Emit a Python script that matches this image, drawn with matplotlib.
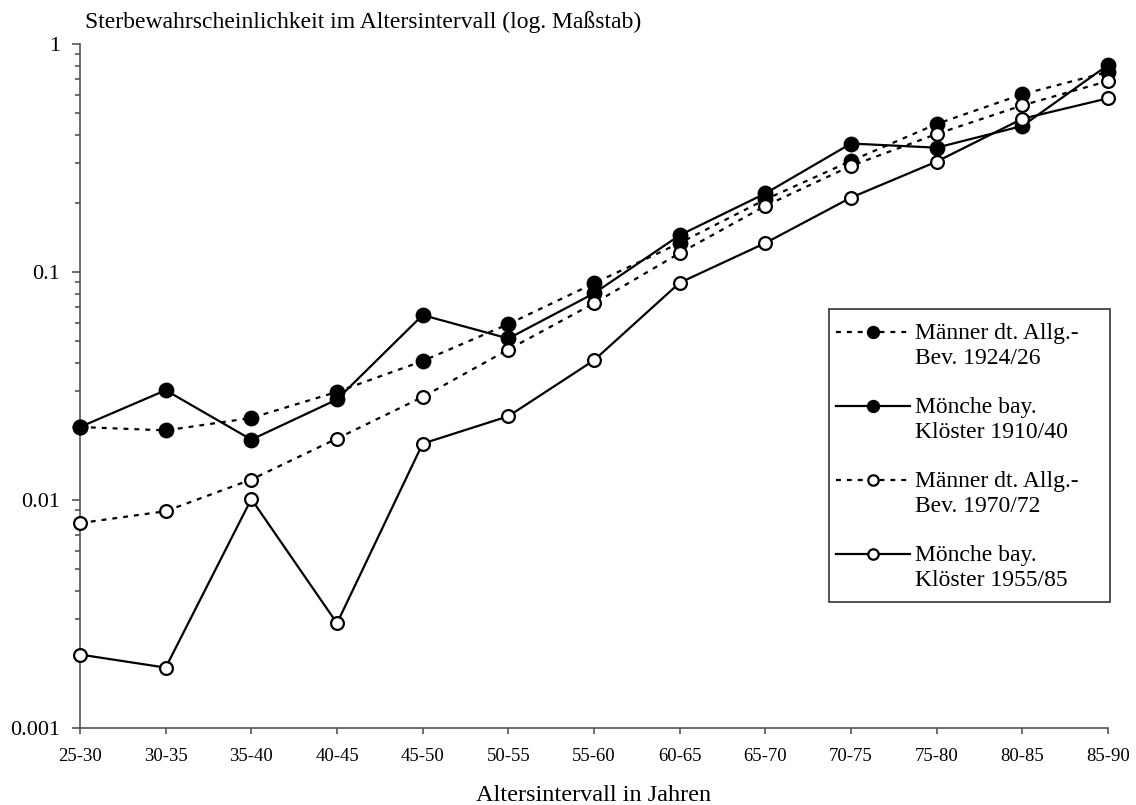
import matplotlib
matplotlib.use("Agg")
import matplotlib.pyplot as plt
from matplotlib.lines import Line2D
from matplotlib.patches import Rectangle
from matplotlib.ticker import FixedLocator, FixedFormatter, LogLocator, NullFormatter

# Altersintervalle (x-Achse)
intervalle = ["25-30", "30-35", "35-40", "40-45", "45-50", "50-55", "55-60",
              "60-65", "65-70", "70-75", "75-80", "80-85", "85-90"]

# Sterbewahrscheinlichkeiten je Intervall
maenner_1924 = [0.0209, 0.0202, 0.0229, 0.0298, 0.0407, 0.0591, 0.0892,
                0.134, 0.208, 0.307, 0.446, 0.602, 0.754]
moenche_1910 = [0.0209, 0.0303, 0.0184, 0.0276, 0.0647, 0.0511, 0.0806,
                0.145, 0.221, 0.366, 0.351, 0.437, 0.809]
maenner_1970 = [0.00792, 0.00893, 0.0123, 0.0186, 0.0283, 0.0457, 0.0729,
                0.121, 0.195, 0.292, 0.403, 0.538, 0.688]
moenche_1955 = [0.0021, 0.00184, 0.0101, 0.00288, 0.01767, 0.0233, 0.0410,
                0.0897, 0.134, 0.212, 0.305, 0.470, 0.578]

labels = ["Männer dt. Allg.-\nBev. 1924/26",
          "Mönche bay.\nKlöster 1910/40",
          "Männer dt. Allg.-\nBev. 1970/72",
          "Mönche bay.\nKlöster 1955/85"]

plt.rcParams["font.family"] = ["Liberation Serif", "DejaVu Serif"]

W, H = 1136, 805
fig = plt.figure(figsize=(W / 100, H / 100), dpi=100)
ax = fig.add_axes([80 / W, 1 - 728 / H, (1108 - 80) / W, (728 - 44) / H])

def px(x, y):
    # Pixel -> Figurkoordinaten
    return x / W, 1 - y / H

dots = (0, (2.2, 2.7))  # kurze Striche
x = list(range(len(intervalle)))
stile = [
    (maenner_1924, dots, "black"),
    (moenche_1910, "-", "black"),
    (maenner_1970, dots, "white"),
    (moenche_1955, "-", "white"),
]
for werte, ls, fc in stile:
    ax.plot(x, werte, linestyle=ls, color="black", linewidth=1.6,
            marker="o", markersize=9.8 if fc == "black" else 9.2,
            markerfacecolor=fc, markeredgecolor="black",
            markeredgewidth=1.6, clip_on=False, zorder=3)

ax.set_yscale("log")
ax.set_ylim(0.001, 1)
ax.set_xlim(0, len(intervalle) - 1)

ax.yaxis.set_major_locator(FixedLocator([0.001, 0.01, 0.1, 1]))
ax.yaxis.set_major_formatter(FixedFormatter(["0.001", "0.01", "0.1", "1"]))
ax.yaxis.set_minor_locator(LogLocator(base=10, subs=range(2, 10)))
ax.yaxis.set_minor_formatter(NullFormatter())

ax.set_xticks(x)
ax.set_xticklabels(intervalle)

for s in ["top", "right"]:
    ax.spines[s].set_visible(False)
for s in ["left", "bottom"]:
    ax.spines[s].set_color("#555555")
    ax.spines[s].set_linewidth(1.2)

ax.tick_params(axis="y", which="major", length=5.5, width=1.2, color="#555555",
               labelsize=16, pad=9)
ax.tick_params(axis="y", which="minor", length=3.8, width=1.2, color="#555555")
ax.tick_params(axis="x", which="major", length=4.5, width=1.2, color="#555555",
               labelsize=13.5, pad=10)

ax.set_xlabel("Altersintervall in Jahren", fontsize=17.5, labelpad=14)
fig.text(*px(85, 22), "Sterbewahrscheinlichkeit im Altersintervall (log. Maßstab)",
         fontsize=17, va="center", ha="left")

# Legende von Hand, Marker auf Höhe der ersten Zeile
fig.add_artist(Rectangle(px(829, 602), (1110 - 829) / W, (602 - 309) / H,
                         transform=fig.transFigure, fill=False,
                         edgecolor="#333333", linewidth=1.2))
for i, (werte, ls, fc) in enumerate(stile):
    y0 = 332 + i * 74
    x1, y1 = px(836, y0)
    x2, _ = px(910, y0)
    xm, _ = px(873, y0)
    fig.add_artist(Line2D([x1, x2], [y1, y1], transform=fig.transFigure,
                          linestyle=ls, color="black", linewidth=1.6))
    fig.add_artist(Line2D([xm], [y1], transform=fig.transFigure,
                          marker="o", markersize=8 if fc == "black" else 7.5,
                          markerfacecolor=fc, markeredgecolor="black",
                          markeredgewidth=1.6))
    fig.text(*px(915, y0 + 14), labels[i], fontsize=17, va="center",
             ha="left", linespacing=1.2)

fig.savefig("out.png", dpi=100)
